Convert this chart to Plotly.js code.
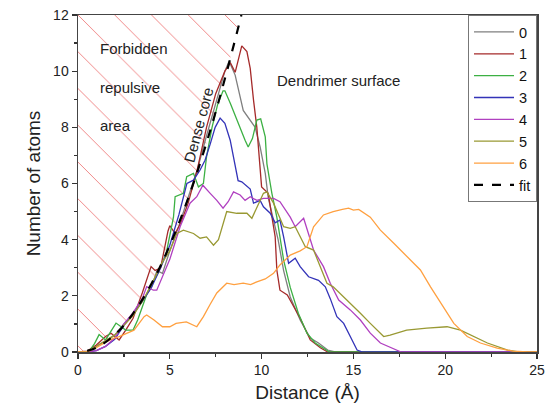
<!DOCTYPE html>
<html>
<head>
<meta charset="utf-8">
<script src="https://cdn.plot.ly/plotly-3.0.1.min.js"></script>
<style>html,body{margin:0;padding:0;background:#fff;}#chart{width:546px;height:406px;}</style>
</head>
<body>
<div id="chart"></div>
<script>
// ---- Data ----
const seriesNames = ["0", "1", "2", "3", "4", "5", "6"];
const seriesColors = ["#7f7f7f", "#a52a2a", "#3cb043", "#3333b8", "#b040c0", "#999933", "#ffa040"];

const x0 = [0, 0.5, 1.0, 1.5, 2.0, 2.5, 3.0, 3.5, 4.0, 4.3, 4.6, 5.0, 5.5, 6.0, 6.5, 7.0, 7.5, 8.0, 8.23, 8.56, 9.0, 9.38, 9.65, 9.92, 10.2, 10.36, 10.6, 10.9, 11.2, 11.56, 12.1, 12.65, 13.1, 13.6, 14, 25];
const y0 = [0, 0.02, 0.2, 0.4, 0.6, 1.0, 1.35, 1.8, 2.3, 2.9, 2.8, 3.6, 4.5, 5.5, 6.5, 7.7, 8.9, 10.0, 10.35, 9.86, 8.6, 8.26, 8.0, 7.3, 6.36, 5.5, 4.8, 4.0, 2.9, 1.96, 1.14, 0.5, 0.32, 0.07, 0, 0];

const x1 = [0, 0.5, 1.0, 1.5, 1.8, 2.24, 2.6, 3.0, 3.5, 3.8, 3.98, 4.2, 4.5, 4.9, 5.0, 5.29, 5.6, 6.0, 6.5, 7.0, 7.5, 8.0, 8.3, 8.56, 8.92, 9.2, 9.38, 9.56, 9.74, 10.0, 10.36, 10.56, 10.74, 10.83, 11.0, 11.4, 11.74, 12.1, 12.65, 13.2, 13.6, 25];
const y1 = [0, 0.03, 0.25, 0.55, 0.67, 0.43, 0.78, 1.2, 2.1, 2.68, 3.04, 2.9, 3.0, 4.3, 4.5, 4.22, 4.6, 5.3, 6.5, 8.0, 9.2, 10.0, 10.3, 9.96, 10.9, 10.7, 10.1, 8.97, 8.0, 5.88, 5.65, 4.82, 4.1, 2.92, 2.2, 2.03, 1.6, 1.2, 0.43, 0.15, 0, 0];

const x2 = [0, 0.6, 0.9, 1.15, 1.5, 2.07, 2.6, 3.0, 3.25, 3.8, 4.35, 4.8, 5.2, 5.29, 5.74, 5.92, 6.29, 6.56, 6.83, 7.0, 7.3, 7.6, 7.9, 8.0, 8.3, 8.72, 9.1, 9.27, 9.5, 9.74, 9.95, 10.2, 10.29, 10.56, 10.83, 11.2, 11.56, 12.0, 12.47, 12.92, 13.37, 13.7, 25];
const y2 = [0, 0.02, 0.3, 0.62, 0.43, 1.03, 0.78, 0.78, 1.14, 2.15, 2.8, 3.5, 4.8, 5.53, 5.65, 6.24, 6.36, 5.88, 6.0, 6.95, 8.0, 8.8, 9.3, 9.3, 8.85, 8.14, 7.54, 7.3, 7.6, 8.26, 8.3, 7.66, 6.7, 5.65, 4.8, 3.27, 2.3, 1.38, 0.67, 0.32, 0.14, 0, 0];

const x3 = [0, 0.5, 1.0, 1.5, 2.0, 2.5, 3.0, 3.5, 4.0, 4.5, 5.0, 5.5, 5.93, 6.29, 6.65, 6.92, 7.2, 7.47, 7.74, 8.0, 8.29, 8.56, 8.72, 8.92, 9.2, 9.38, 9.56, 9.92, 10.1, 10.47, 10.74, 11.0, 11.2, 11.47, 11.83, 12.1, 12.56, 13.1, 13.47, 13.74, 14.1, 14.47, 14.83, 15.2, 15.5, 25];
const y3 = [0, 0, 0.05, 0.2, 0.45, 0.95, 1.35, 1.8, 2.3, 3.0, 3.8, 4.9, 6.0, 6.12, 6.48, 6.83, 7.4, 8.0, 8.33, 8.14, 7.54, 6.7, 6.1, 6.06, 5.9, 5.8, 5.3, 5.4, 5.17, 4.94, 4.6, 4.7, 4.1, 3.16, 3.34, 3.04, 2.68, 2.55, 2.32, 1.9, 1.26, 1.02, 0.55, 0.07, 0, 0];

const x4 = [0, 0.5, 1.0, 1.5, 2.0, 2.5, 3.0, 3.5, 3.74, 4.1, 4.29, 4.6, 5.0, 5.56, 6.1, 6.47, 6.8, 7.2, 7.56, 7.9, 8.18, 8.47, 8.83, 9.1, 9.38, 9.74, 10.1, 10.65, 11.0, 11.56, 11.83, 12.29, 12.56, 12.83, 13.37, 13.74, 14.2, 14.83, 15.38, 15.92, 16.47, 17.2, 17.6, 25];
const y4 = [0, 0, 0.05, 0.2, 0.5, 1.0, 1.4, 1.9, 2.33, 2.2, 2.2, 2.7, 3.3, 4.46, 5.3, 5.53, 5.94, 5.65, 5.4, 5.12, 5.35, 5.7, 5.59, 5.4, 5.53, 5.4, 5.47, 5.47, 5.35, 4.8, 4.46, 4.76, 4.22, 3.63, 3.04, 2.45, 1.85, 1.5, 1.14, 0.67, 0.32, 0.1, 0, 0];

const x5 = [0, 0.5, 1.0, 1.5, 2.0, 2.5, 3.0, 3.5, 4.0, 4.6, 5.0, 5.38, 5.74, 6.29, 6.65, 7.0, 7.38, 7.65, 8.1, 8.65, 9.2, 9.47, 9.74, 10.1, 10.29, 10.65, 11.2, 11.56, 11.83, 12.38, 12.83, 13.56, 13.9, 14.83, 15.38, 15.92, 16.65, 17.0, 17.9, 19.0, 20.1, 20.83, 21.56, 22.3, 23.4, 24.0, 25];
const y5 = [0, 0.02, 0.2, 0.4, 0.6, 0.95, 1.3, 1.8, 2.4, 3.2, 3.6, 4.22, 4.34, 4.22, 4.05, 4.1, 3.8, 4.0, 5.0, 4.94, 4.94, 4.76, 5.17, 5.65, 5.7, 5.3, 4.46, 4.4, 4.46, 3.75, 3.63, 2.45, 2.32, 1.74, 1.38, 1.02, 0.55, 0.6, 0.78, 0.85, 0.9, 0.78, 0.55, 0.32, 0.07, 0, 0];

const x6 = [0, 0.5, 1.0, 1.5, 2.0, 2.24, 3.05, 3.6, 3.74, 4.14, 4.6, 5.0, 5.34, 5.9, 6.47, 6.83, 7.2, 7.56, 8.1, 8.5, 9.0, 9.4, 9.74, 10.2, 10.65, 11.0, 11.56, 12.1, 12.47, 12.83, 13.37, 13.9, 14.4, 14.74, 15.0, 15.29, 15.92, 16.47, 17.2, 17.9, 18.65, 19.2, 19.9, 20.47, 21.2, 21.92, 22.83, 23.7, 24.5, 25];
const y6 = [0, 0, 0.15, 0.35, 0.5, 0.55, 0.78, 1.26, 1.32, 1.14, 0.9, 0.9, 1.02, 1.07, 0.9, 1.26, 1.7, 2.1, 2.45, 2.4, 2.45, 2.4, 2.5, 2.6, 2.8, 3.1, 3.45, 3.6, 3.75, 4.46, 4.88, 5.0, 5.08, 5.12, 5.05, 5.08, 4.8, 4.34, 3.87, 3.4, 2.92, 2.32, 1.6, 1.02, 0.55, 0.32, 0.14, 0.03, 0, 0];

const fitX = [0.5, 1, 2, 3, 4, 5, 6, 7, 8, 8.9];
const fitY = [0.04, 0.15, 0.61, 1.37, 2.43, 3.8, 5.47, 7.45, 9.73, 12.0];

const xTickVals = [0, 5, 10, 15, 20, 25];
const yTickVals = [0, 2, 4, 6, 8, 10, 12];

const xs = [x0, x1, x2, x3, x4, x5, x6];
const ys = [y0, y1, y2, y3, y4, y5, y6];

// ---- Traces ----
const FONT = "Liberation Sans, Arial, sans-serif";
const traces = [];

// hatched forbidden region (left of the fit curve)
traces.push({
  x: [0].concat(fitX, [0]),
  y: [0].concat(fitY, [12]),
  mode: "lines",
  line: {width: 0},
  fill: "toself",
  fillcolor: "rgba(0,0,0,0)",
  fillpattern: {shape: "\\", fgcolor: "rgba(230,50,50,0.75)", bgcolor: "rgba(255,255,255,0)", size: 26, solidity: 0.03},
  showlegend: false,
  hoverinfo: "skip"
});

for (let i = 0; i < seriesNames.length; i++) {
  traces.push({
    x: xs[i], y: ys[i], name: seriesNames[i],
    mode: "lines",
    line: {color: seriesColors[i], width: 1.3}
  });
}
traces.push({
  x: fitX, y: fitY, name: "fit", mode: "lines",
  line: {color: "#000", width: 2.2, dash: "dash", shape: "spline"}
});

const layout = {
  width: 546, height: 406,
  margin: {l: 78, r: 9, t: 15, b: 54},
  paper_bgcolor: "#fff", plot_bgcolor: "#fff",
  font: {family: FONT, size: 14, color: "#222"},
  showlegend: true,
  legend: {
    x: 1, xanchor: "right", y: 1, yanchor: "top",
    bgcolor: "#fff", bordercolor: "#777", borderwidth: 1,
    font: {family: FONT, size: 14.5, color: "#111"},
    itemwidth: 40, tracegroupgap: 0
  },
  xaxis: {
    range: [0, 25], tickvals: xTickVals, ticks: "outside", ticklen: 5, tickwidth: 1.2,
    tickcolor: "#333", showline: true, linecolor: "#444", linewidth: 1.5, mirror: true,
    showgrid: false, zeroline: false,
    minor: {dtick: 2.5, ticks: "outside", ticklen: 3, tickcolor: "#333", showgrid: false},
    tickfont: {family: FONT, size: 14, color: "#222"},
    title: {text: "Distance (Å)", font: {family: FONT, size: 19, color: "#222"}, standoff: 8}
  },
  yaxis: {
    range: [0, 12], tickvals: yTickVals, ticks: "outside", ticklen: 5, tickwidth: 1.2,
    tickcolor: "#333", showline: true, linecolor: "#444", linewidth: 1.5, mirror: true,
    showgrid: false, zeroline: false,
    minor: {dtick: 1, ticks: "outside", ticklen: 3, tickcolor: "#333", showgrid: false},
    tickfont: {family: FONT, size: 14, color: "#222"},
    title: {text: "Number of atoms", font: {family: FONT, size: 19, color: "#222"}, standoff: 7}
  },
  annotations: [
    {x: 1.09, y: 10.82, xref: "x", yref: "y", xanchor: "left", yanchor: "middle", showarrow: false, text: "Forbidden", font: {family: FONT, size: 15, color: "#222"}},
    {x: 1.09, y: 9.43, xref: "x", yref: "y", xanchor: "left", yanchor: "middle", showarrow: false, text: "repulsive", font: {family: FONT, size: 15, color: "#222"}},
    {x: 1.09, y: 8.08, xref: "x", yref: "y", xanchor: "left", yanchor: "middle", showarrow: false, text: "area", font: {family: FONT, size: 15, color: "#222"}},
    {x: 10.75, y: 9.68, xref: "x", yref: "y", xanchor: "left", yanchor: "middle", showarrow: false, text: "Dendrimer surface", font: {family: FONT, size: 15, color: "#222"}},
    {x: 6.54, y: 8.08, xref: "x", yref: "y", xanchor: "center", yanchor: "middle", showarrow: false, textangle: -75, text: "Dense core", font: {family: FONT, size: 15, color: "#222"}}
  ]
};

Plotly.newPlot("chart", traces, layout, {displayModeBar: false, staticPlot: true});
</script>
</body>
</html>
